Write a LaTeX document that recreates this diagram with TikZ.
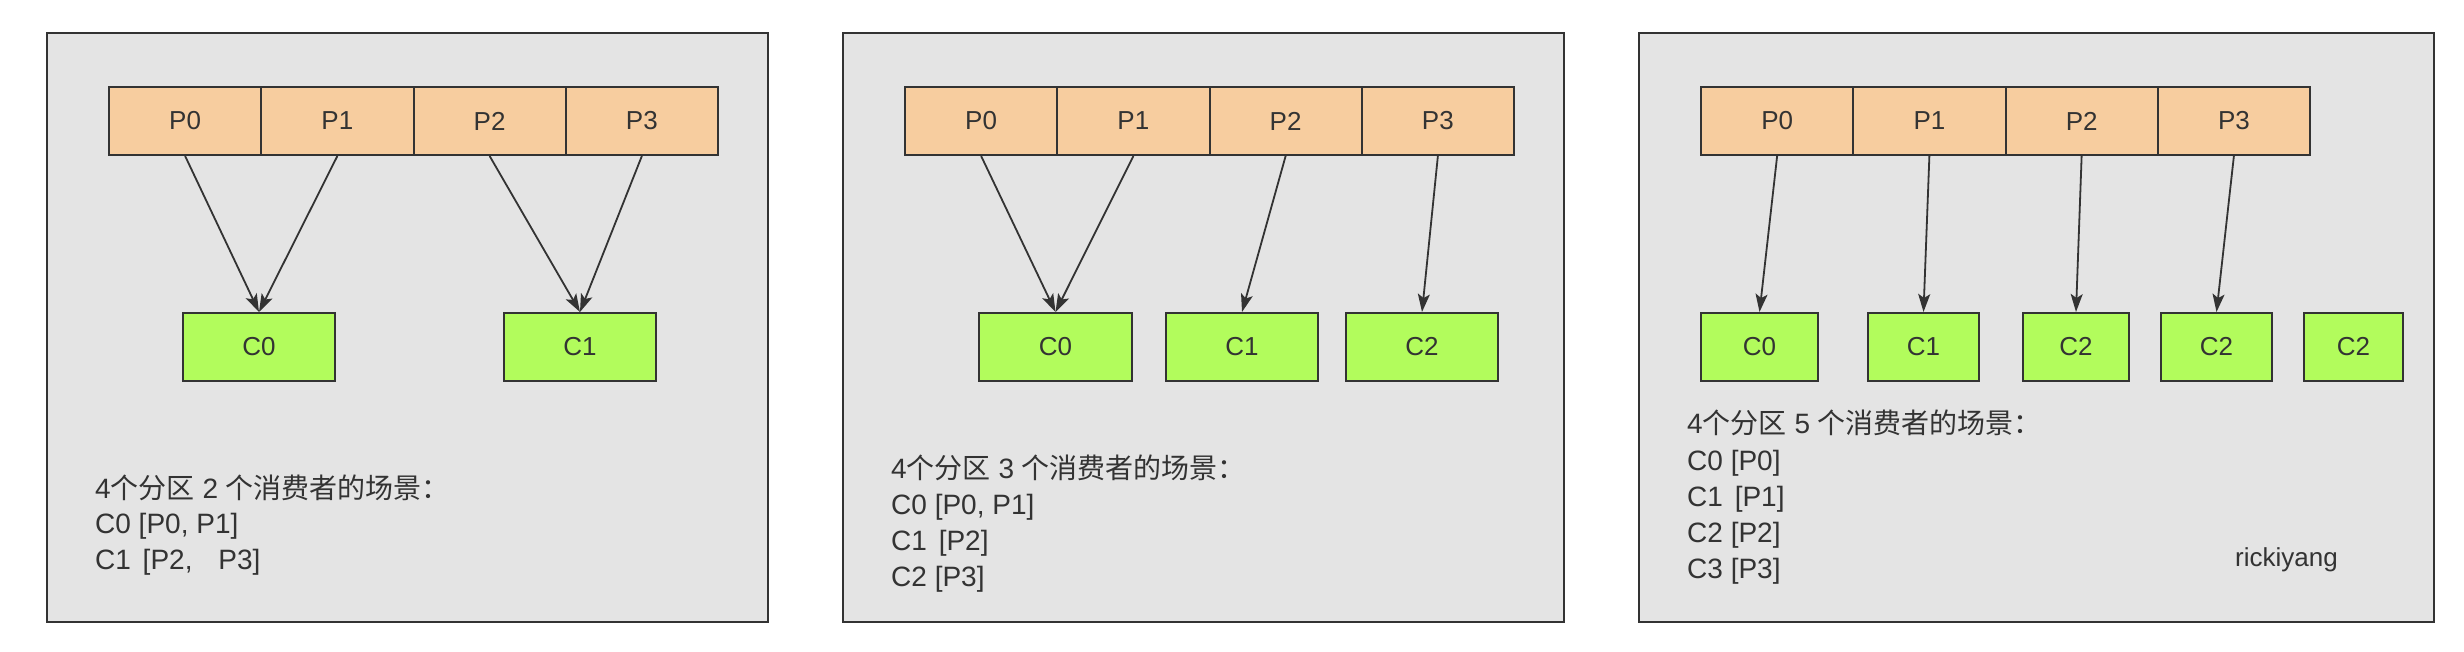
\documentclass[tikz,border=0pt]{standalone}
\usepackage{fontspec}
\setmainfont{Liberation Sans}
\newfontfamily\cjkfont{Noto Sans CJK SC}
\usetikzlibrary{arrows.meta}
\definecolor{panelbg}{HTML}{E4E4E4}
\definecolor{ink}{HTML}{333333}
\definecolor{peach}{HTML}{F7CD9F}
\definecolor{lime}{HTML}{B2FC5C}
\tikzset{
  panel/.style={draw=ink, fill=panelbg, line width=2pt},
  part/.style={draw=ink, fill=peach, line width=2pt, minimum width=152.25pt, minimum height=68pt, inner sep=0pt, text=ink, font=\fontsize{26}{30}\selectfont},
  cons/.style={draw=ink, fill=lime, line width=2pt, minimum height=68pt, inner sep=0pt, text=ink, font=\fontsize{26}{30}\selectfont},
  link/.style={draw=ink, line width=1.8pt, -{Stealth[length=18pt,width=12pt,inset=4pt]}},
  note/.style={anchor=base west, inner sep=0pt, text=ink, font=\fontsize{28}{34}\selectfont},
  sig/.style={anchor=base west, inner sep=0pt, text=ink, font=\fontsize{26}{30}\selectfont}
}
\begin{document}
\begin{tikzpicture}[x=1pt,y=-1pt]
\useasboundingbox (0,0) rectangle (2464,652);
% panels
\draw[panel] (47,33) rectangle (768,622);
\draw[panel] (843,33) rectangle (1564,622);
\draw[panel] (1639,33) rectangle (2434,622);
% partitions
\foreach \i in {0,...,3}{
  \node[part] (a\i) at ({185.125+152.25*\i},121) {P\i};
  \node[part] (b\i) at ({981.125+152.25*\i},121) {P\i};
  \node[part] (e\i) at ({1777.125+152.25*\i},121) {P\i};
}
% consumers panel 1
\node[cons, minimum width=152pt] (c0) at (259,347) {C0};
\node[cons, minimum width=152pt] (c1) at (580,347) {C1};
% consumers panel 2
\node[cons, minimum width=153pt] (d0) at (1055.5,347) {C0};
\node[cons, minimum width=152pt] (d1) at (1242,347) {C1};
\node[cons, minimum width=152pt] (d2) at (1422,347) {C2};
% consumers panel 3
\node[cons, minimum width=117pt] (f0) at (1759.5,347) {C0};
\node[cons, minimum width=111pt] (f1) at (1923.5,347) {C1};
\node[cons, minimum width=106pt] (f2) at (2076,347) {C2};
\node[cons, minimum width=111pt] (f3) at (2216.5,347) {C2};
\node[cons, minimum width=99pt] (f4) at (2353.5,347) {C2};
% arrows
\draw[link] (a0.south) -- (c0.north);
\draw[link] (a1.south) -- (c0.north);
\draw[link] (a2.south) -- (c1.north);
\draw[link] (a3.south) -- (c1.north);
\draw[link] (b0.south) -- (d0.north);
\draw[link] (b1.south) -- (d0.north);
\draw[link] (b2.south) -- (d1.north);
\draw[link] (b3.south) -- (d2.north);
\draw[link] (e0.south) -- (f0.north);
\draw[link] (e1.south) -- (f1.north);
\draw[link] (e2.south) -- (f2.north);
\draw[link] (e3.south) -- (f3.north);
% texts panel 1
\node[note] (t1a) at (95,498) {4{\cjkfont 个分区} 2 {\cjkfont 个消费者的场景：}};
\node[note] (t1b) at (95,533.5) {C0 [P0, P1]};
\node[note] (t1c) at (95,569) {C1\hspace{4pt} [P2,\hspace{18pt} P3]};
% texts panel 2
\node[note] (t2a) at (891,478) {4{\cjkfont 个分区} 3 {\cjkfont 个消费者的场景：}};
\node[note] (t2b) at (891,514) {C0 [P0, P1]};
\node[note] (t2c) at (891,550) {C1\hspace{4pt} [P2]};
\node[note] (t2d) at (891,586) {C2 [P3]};
% texts panel 3
\node[note] (t3a) at (1687,433) {4{\cjkfont 个分区} 5 {\cjkfont 个消费者的场景：}};
\node[note] (t3b) at (1687,470) {C0 [P0]};
\node[note] (t3c) at (1687,506) {C1\hspace{4pt} [P1]};
\node[note] (t3d) at (1687,542) {C2 [P2]};
\node[note] (t3e) at (1687,578) {C3 [P3]};
\node[sig] (sig) at (2235,566.7) {rickiyang};
\end{tikzpicture}
\end{document}
